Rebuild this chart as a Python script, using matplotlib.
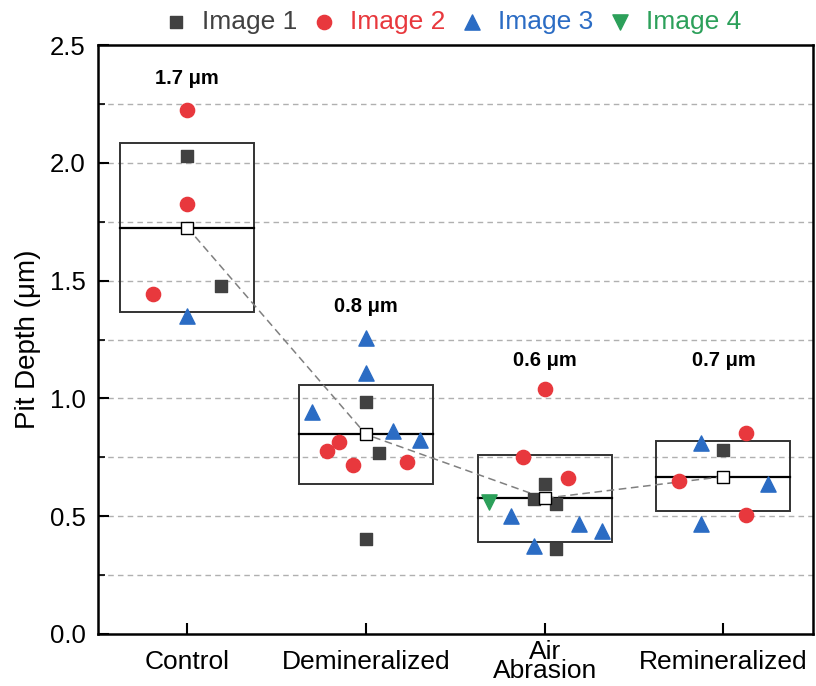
import numpy as np
import matplotlib
matplotlib.use("Agg")
import matplotlib.pyplot as plt

plt.rcParams["font.family"] = ["Liberation Sans", "DejaVu Sans"]

# Group names and positions
groups = ["Control", "Demineralized", "Air\nAbrasion", "Remineralized"]
group_pos = [1, 2, 3, 4]

# Box statistics (bottom, top, mean line)
box_low = [1.367, 0.636, 0.389, 0.522]
box_high = [2.083, 1.058, 0.761, 0.819]
box_mean = [1.726, 0.847, 0.576, 0.668]
mean_labels = ["1.7 μm", "0.8 μm", "0.6 μm", "0.7 μm"]
label_y = [2.36, 1.39, 1.16, 1.16]

# Image 1 (squares)
img1_x = [1.0, 1.19, 2.0, 2.075, 2.0, 3.0, 2.94, 3.065, 3.065, 4.0]
img1_y = [2.031, 1.476, 0.983, 0.770, 0.405, 0.638, 0.572, 0.551, 0.360, 0.780]

# Image 2 (circles)
img2_x = [1.0, 1.0, 0.81, 1.85, 1.78, 1.925, 2.23, 3.0, 2.88, 3.13, 4.125, 3.75, 4.125]
img2_y = [2.225, 1.826, 1.444, 0.816, 0.775, 0.717, 0.730, 1.042, 0.753, 0.664, 0.854, 0.650, 0.505]

# Image 3 (up triangles)
img3_x = [1.0, 2.0, 2.0, 1.70, 2.15, 2.30, 2.81, 3.19, 3.32, 2.94, 3.875, 4.25, 3.875]
img3_y = [1.352, 1.255, 1.109, 0.944, 0.861, 0.823, 0.500, 0.466, 0.435, 0.374, 0.810, 0.638, 0.466]

# Image 4 (down triangles)
img4_x = [2.69]
img4_y = [0.558]

c1 = "#414141"
c2 = "#e8383d"
c3 = "#2b6cc4"
c4 = "#2ca05a"

fig = plt.figure(figsize=(8.16, 6.86), dpi=100)
ax = fig.add_axes([0.120, 0.076, 0.876, 0.858])

# gridlines
for g in np.arange(0.25, 2.5, 0.25):
    ax.axhline(g, color="#b0b0b0", ls=(0, (4, 3)), lw=1.0, zorder=0)

# boxes
for p, lo, hi, m in zip(group_pos, box_low, box_high, box_mean):
    ax.add_patch(plt.Rectangle((p - 0.375, lo), 0.75, hi - lo, fill=False,
                               edgecolor="#333333", lw=1.4, zorder=2))
    ax.plot([p - 0.375, p + 0.375], [m, m], color="black", lw=1.6, zorder=2)

# dashed line through means
ax.plot(group_pos, box_mean, color="#808080", ls=(0, (5, 3)), lw=1.1, zorder=3)

ax.scatter(img1_x, img1_y, marker="s", s=80, color=c1, zorder=4, label="Image 1")
ax.scatter(img2_x, img2_y, marker="o", s=105, color=c2, zorder=4, label="Image 2")
ax.scatter(img3_x, img3_y, marker="^", s=120, color=c3, zorder=4, label="Image 3")
ax.scatter(img4_x, img4_y, marker="v", s=120, color=c4, zorder=4, label="Image 4")

# mean markers
ax.scatter(group_pos, box_mean, marker="s", s=80, facecolor="white",
           edgecolor="black", lw=1.0, zorder=5)

for p, t, yv in zip(group_pos, mean_labels, label_y):
    ax.text(p, yv, t, ha="center", va="center", fontsize=14.5, fontweight="bold")

ax.set_xlim(0.5, 4.5)
ax.set_ylim(0, 2.5)
ax.set_xticks(group_pos)
ax.set_xticklabels(groups, fontsize=19, linespacing=0.72, va="center")
ax.set_yticks(np.arange(0, 2.51, 0.5))
ax.set_yticklabels(["0.0", "0.5", "1.0", "1.5", "2.0", "2.5"], fontsize=18.5)
ax.set_yticks(np.arange(0.25, 2.5, 0.5), minor=True)
ax.tick_params(axis="both", which="major", direction="in", length=8, width=1.5)
ax.tick_params(axis="y", which="minor", direction="in", length=5, width=1.2)
ax.tick_params(axis="x", pad=20)
ax.tick_params(axis="y", pad=9)
for s in ax.spines.values():
    s.set_linewidth(1.8)

ax.set_ylabel("Pit Depth (μm)", fontsize=20, labelpad=6)

leg = fig.legend(loc="center", bbox_to_anchor=(452 / 816, 1 - 22 / 686), ncol=4,
                 frameon=False, fontsize=19, handlelength=1.0, handletextpad=0.5,
                 columnspacing=0.5, labelcolor="markerfacecolor", borderpad=0.2)

fig.savefig("out.png", dpi=100)
